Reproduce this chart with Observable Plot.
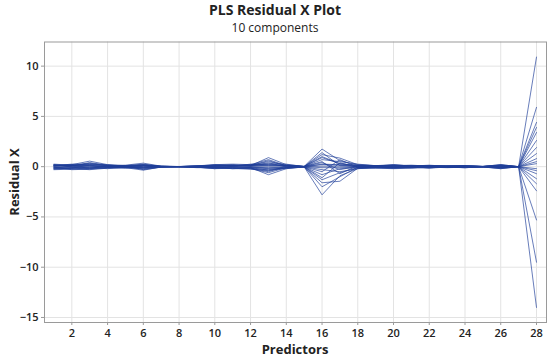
<!DOCTYPE html>
<html>
<head>
<meta charset="utf-8">
<script src="https://cdn.jsdelivr.net/npm/d3@7"></script>
<script src="https://cdn.jsdelivr.net/npm/@observablehq/plot@0.6"></script>
<style>
  html, body { margin: 0; padding: 0; background: #fff; }
  #wrap { position: relative; width: 550px; height: 357px; overflow: hidden; font-family: "Open Sans", "Noto Sans", sans-serif; color: #222; }
  #title { position: absolute; left: 0; width: 550px; top: 2px; text-align: center; font-size: 14px; font-weight: 700; line-height: 16px; }
  #subtitle { position: absolute; left: 0; width: 550px; top: 21px; text-align: center; font-size: 12px; line-height: 14px; }
  #xlabel { position: absolute; left: 44px; width: 502px; top: 342px; text-align: center; font-size: 13px; font-weight: 700; line-height: 15px; }
  #ylabel { position: absolute; left: 14px; top: 182px; transform: translate(-50%, -50%) rotate(-90deg); white-space: nowrap; font-size: 13px; font-weight: 700; line-height: 15px; }
  #chart { position: absolute; left: 0; top: 0; }
</style>
</head>
<body>
<div id="wrap">
  <div id="chart"></div>
  <div id="title">PLS Residual X Plot</div>
  <div id="subtitle">10 components</div>
  <div id="xlabel">Predictors</div>
  <div id="ylabel">Residual X</div>
</div>
<script>
const predictors = [1,2,3,4,5,6,7,8,9,10,11,12,13,14,15,16,17,18,19,20,21,22,23,24,25,26,27,28];
const xTicks = [2,4,6,8,10,12,14,16,18,20,22,24,26,28];
const yTicks = [-15,-10,-5,0,5,10];

const obs01 = [0.15,0.1,0.3,0.1,-0.05,0.2,0.05,0.01,0.05,0.1,0.15,0.1,0.9,0.2,0.03,1.75,0.6,0.15,0.1,0.1,0.1,0.05,0.1,0.05,0.02,0.15,0,10.9];
const obs02 = [-0.2,-0.1,-0.2,0.05,0.1,-0.3,-0.05,0,-0.05,-0.15,-0.1,-0.2,-0.6,-0.1,-0.02,-2.8,-0.9,-0.2,-0.1,-0.15,-0.1,-0.1,-0.05,-0.1,-0.03,-0.2,0,-14.0];
const obs03 = [0.1,0.2,0.55,0.2,0.1,0.1,0.03,0.02,0.08,0.2,0.1,0.15,0.5,0.15,0.02,1.2,0.85,0.2,0.1,0.2,0.05,0.1,0.08,0.1,0.03,0.1,0,5.9];
const obs04 = [-0.1,-0.2,-0.3,-0.15,-0.1,-0.2,-0.05,-0.01,-0.1,-0.1,-0.2,-0.1,-0.8,-0.2,-0.03,-1.6,-1.45,-0.15,-0.15,-0.2,-0.15,-0.05,-0.1,-0.05,-0.02,-0.15,0,-9.5];
const obs05 = [0.25,0.15,0.2,0.1,0.15,0.35,0.05,0.01,0.05,0.2,0.25,0.2,0.7,0.1,0.02,1.0,0.3,0.1,0.05,0.15,0.1,0.1,0.05,0.1,0.02,0.2,0,4.4];
const obs06 = [-0.3,-0.25,-0.1,-0.2,-0.05,-0.1,-0.02,0,-0.05,-0.2,-0.15,-0.25,-0.4,-0.15,-0.01,-1.1,0.4,-0.1,-0.05,-0.1,-0.05,-0.1,-0.05,-0.05,-0.01,-0.1,0,-5.3];
const obs07 = [0.05,0.1,0.4,0.15,0.05,0.15,0.02,0.01,0.1,0.05,0.1,0.2,0.3,0.25,0.01,0.7,0.5,0.25,0.1,0.1,0.15,0.05,0.05,0.05,0.02,0.05,0,3.9];
const obs08 = [0.2,-0.05,0.1,-0.1,0.1,0.25,0.04,0,0.03,0.15,0.2,0.05,0.4,-0.05,0.02,0.4,-0.3,0.05,0.05,0.2,0.05,0.15,0.03,0.08,0.01,0.15,0,3.4];
const obs09 = [-0.15,0.05,-0.15,0.05,-0.1,-0.35,-0.03,0.01,-0.08,-0.05,-0.1,-0.15,-0.5,0.05,-0.02,-0.5,0.7,-0.05,-0.1,-0.05,-0.1,-0.05,-0.05,-0.1,-0.02,-0.05,0,-2.4];
const obs10 = [0.1,0.25,0.25,0.2,0.05,-0.05,0.03,0,0.05,0.1,0.05,0.25,0.2,0.1,0.01,0.25,0.2,0.15,0.1,0.05,0.05,0.1,0.05,0.05,0.02,0.2,0,2.6];
const obs11 = [-0.25,-0.15,0.15,-0.05,-0.15,0.05,-0.04,-0.01,-0.05,-0.2,0.05,-0.1,-0.2,-0.2,-0.01,-0.3,-0.5,-0.2,-0.05,-0.15,-0.05,-0.15,-0.03,-0.1,-0.01,-0.1,0,-1.7];
const obs12 = [0.05,0.2,0.05,0.05,0.1,0.2,0.01,0,0.02,0.05,0.15,0.05,0.15,0.15,0.01,0.5,-0.7,0.1,0.05,0.1,0.1,0.05,0.02,0.05,0.01,0.1,0,1.9];
const obs13 = [-0.05,-0.3,-0.25,-0.1,-0.05,-0.25,-0.02,0,-0.03,-0.1,-0.2,-0.2,-0.3,-0.1,-0.02,-0.8,-0.2,-0.1,-0.1,-0.1,-0.1,-0.05,-0.05,-0.05,-0.02,-0.2,0,-1.2];
const obs14 = [0.2,0.05,0.35,0.1,0.05,0.1,0.02,0.01,0.05,0.15,0.1,0.1,0.6,0.05,0.01,1.4,0.1,0.05,0.05,0.05,0.05,0.05,0.05,0.1,0.01,0.05,0,1.3];
const obs15 = [-0.1,-0.1,-0.05,-0.05,0.05,-0.15,-0.01,0,-0.02,-0.05,-0.05,-0.05,-0.1,-0.05,-0.01,-2.0,-1.0,-0.05,-0.05,-0.05,-0.05,-0.1,-0.02,-0.05,-0.01,-0.05,0,-0.7];
const obs16 = [0.1,0.1,0.1,0.05,-0.05,0.05,0.01,0,0.02,0.05,0.05,0.1,0.1,0.1,0.01,0.2,0.15,0.05,0.02,0.05,0.02,0.05,0.02,0.02,0.01,0.05,0,0.8];
const obs17 = [-0.05,-0.05,-0.1,-0.05,-0.05,-0.05,-0.01,0,-0.01,-0.05,-0.05,-0.05,-0.15,-0.05,-0.01,-0.1,-0.1,-0.05,-0.02,-0.05,-0.02,-0.05,-0.02,-0.02,-0.01,-0.05,0,-0.2];
const obs18 = [0.05,0.05,0.05,0.02,0.02,0.1,0.01,0,0.01,0.02,0.05,0.05,0.05,0.05,0,0.05,0.05,0.02,0.02,0.02,0.01,0.02,0.01,0.01,0,0.02,0,0.3];
const obs19 = [-0.2,-0.2,-0.2,-0.1,-0.1,-0.1,-0.02,0,-0.05,-0.1,-0.15,-0.1,-0.35,-0.1,-0.01,-1.3,-0.6,-0.1,-0.1,-0.1,-0.05,-0.1,-0.05,-0.05,-0.01,-0.1,0,0.5];
const obs20 = [0.15,0.15,0.2,0.1,0.1,0.15,0.03,0,0.03,0.1,0.1,0.15,0.25,0.1,0.02,0.9,0.3,0.1,0.05,0.1,0.05,0.05,0.03,0.05,0.01,0.1,0,-0.4];

const series = [obs01,obs02,obs03,obs04,obs05,obs06,obs07,obs08,obs09,obs10,
                obs11,obs12,obs13,obs14,obs15,obs16,obs17,obs18,obs19,obs20];

const rows = series.flatMap((vals, i) => vals.map((v, j) => ({obs: i + 1, predictor: predictors[j], residual: v})));

const font = '"Open Sans", "Noto Sans", sans-serif';

const chart = Plot.plot({
  width: 550,
  height: 357,
  marginLeft: 44,
  marginRight: 4,
  marginTop: 41.5,
  marginBottom: 35,
  style: {fontFamily: font, background: "white", color: "#222"},
  x: {domain: [0.47, 28.56]},
  y: {domain: [-15.5, 12.4]},
  marks: [
    Plot.gridX(xTicks, {stroke: "#e3e3e3", strokeOpacity: 1}),
    Plot.gridY(yTicks, {stroke: "#e3e3e3", strokeOpacity: 1}),
    Plot.line(rows, {x: "predictor", y: "residual", z: "obs", stroke: "#1f3f99", strokeWidth: 0.8, strokeOpacity: 0.85}),
    Plot.frame({stroke: "#9a9a9a", strokeWidth: 1}),
    Plot.axisX(xTicks, {tickSize: 3, tickPadding: 4, fontSize: 11, fontWeight: 600, stroke: "#9a9a9a", label: null}),
    Plot.axisY(yTicks, {tickSize: 3, tickPadding: 3, fontSize: 11, fontWeight: 600, stroke: "#9a9a9a", label: null})
  ]
});
document.getElementById("chart").appendChild(chart);
</script>
</body>
</html>
